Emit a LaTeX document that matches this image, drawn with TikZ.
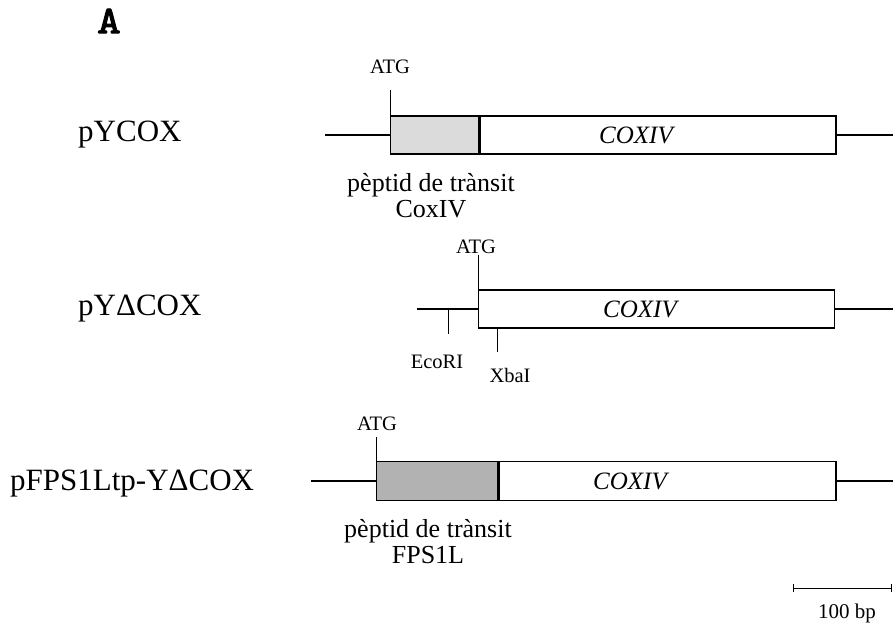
\documentclass[tikz,border=0pt]{standalone}
\usepackage{fontspec}
\setmainfont{Liberation Serif}
\newfontfamily\panelfont{lmmono10-regular}[Extension=.otf, FakeBold=3, FakeStretch=1.15]
\usetikzlibrary{arrows.meta,positioning}

\begin{document}
\begin{tikzpicture}[
    x=1pt, y=-1pt,
    dna/.style={line width=2pt},
    site/.style={line width=1pt},
    gene/.style={rectangle, draw=black, line width=1.4pt, fill=white,
                 minimum height=38pt, inner sep=0pt, anchor=west},
    lighttp/.style={gene, fill=gray!28},
    darktp/.style={gene, fill=gray!60},
    plasmid/.style={font=\fontsize{31}{36}\selectfont, inner sep=0pt, anchor=west},
    genename/.style={font=\fontsize{25}{30}\selectfont\itshape, inner sep=0pt},
    small/.style={font=\fontsize{20.5}{24}\selectfont, inner sep=0pt},
    tplabel/.style={font=\fontsize{26}{26}\selectfont, align=center, inner sep=0pt}
]
    \useasboundingbox (0,0) rectangle (893,626);

    \node[font=\panelfont\fontsize{39}{42}\selectfont, inner sep=0pt] (panel) at (109,21) {A};

    % pYCOX
    \node[plasmid] (name1) at (78,135) {pYCOX};
    \coordinate (start1) at (325,135);
    \coordinate (end1) at (893,135);
    \node[lighttp, minimum width=88pt] (tp1) at (390,135) {};
    \node[gene, minimum width=356pt, right=0pt of tp1] (cox1) {};
    \node[genename] (label1) at (636,135) {COXIV};
    \coordinate (atg1) at (390,90);
    \node[small] (atgtext1) at (390,67) {ATG};
    \node[tplabel] (tptext1) at (431,196) {pèptid de trànsit\\CoxIV};
    \draw[dna] (start1) -- (tp1.west);
    \draw[dna] (cox1.east) -- (end1);
    \draw[site] (tp1.north west) -- (atg1);

    % pYdeltaCOX
    \node[plasmid] (name2) at (78,309) {pYΔCOX};
    \coordinate (start2) at (417,309);
    \coordinate (end2) at (893,309);
    \node[gene, minimum width=356pt] (cox2) at (478,309) {};
    \node[genename] (label2) at (640,309) {COXIV};
    \coordinate (atg2) at (478,255);
    \node[small] (atgtext2) at (476,247) {ATG};
    \coordinate (ecori) at (448,309);
    \coordinate (ecoriend) at (448,334);
    \coordinate (xbai) at (497,328);
    \coordinate (xbaiend) at (497,352);
    \node[small] (ecoritext) at (437,362) {EcoRI};
    \node[small] (xbaitext) at (510,375) {XbaI};
    \draw[dna] (start2) -- (cox2.west);
    \draw[dna] (cox2.east) -- (end2);
    \draw[site] (cox2.north west) -- (atg2);
    \draw[site] (ecori) -- (ecoriend);
    \draw[site] (xbai) -- (xbaiend);

    % pFPS1Ltp-YdeltaCOX
    \node[plasmid] (name3) at (10,484) {pFPS1Ltp-YΔCOX};
    \coordinate (start3) at (311,481);
    \coordinate (end3) at (893,481);
    \node[darktp, minimum width=121pt, minimum height=39pt] (tp3) at (376,481) {};
    \node[gene, minimum width=337pt, minimum height=39pt, right=0pt of tp3] (cox3) {};
    \node[genename] (label3) at (630,481) {COXIV};
    \coordinate (atg3) at (376,437);
    \node[small] (atgtext3) at (377,424) {ATG};
    \node[tplabel] (tptext3) at (428,542) {pèptid de trànsit\\FPS1L};
    \draw[dna] (start3) -- (tp3.west);
    \draw[dna] (cox3.east) -- (end3);
    \draw[site] (tp3.north west) -- (atg3);

    % scale bar
    \coordinate (bar1) at (793,588);
    \coordinate (bar2) at (892,588);
    \draw[site, {Bar[width=8pt]}-{Bar[width=8pt]}] (bar1) -- (bar2);
    \node[font=\fontsize{21}{24}\selectfont, inner sep=0pt] (bartext) at (847,613) {100 bp};
\end{tikzpicture}
\end{document}
